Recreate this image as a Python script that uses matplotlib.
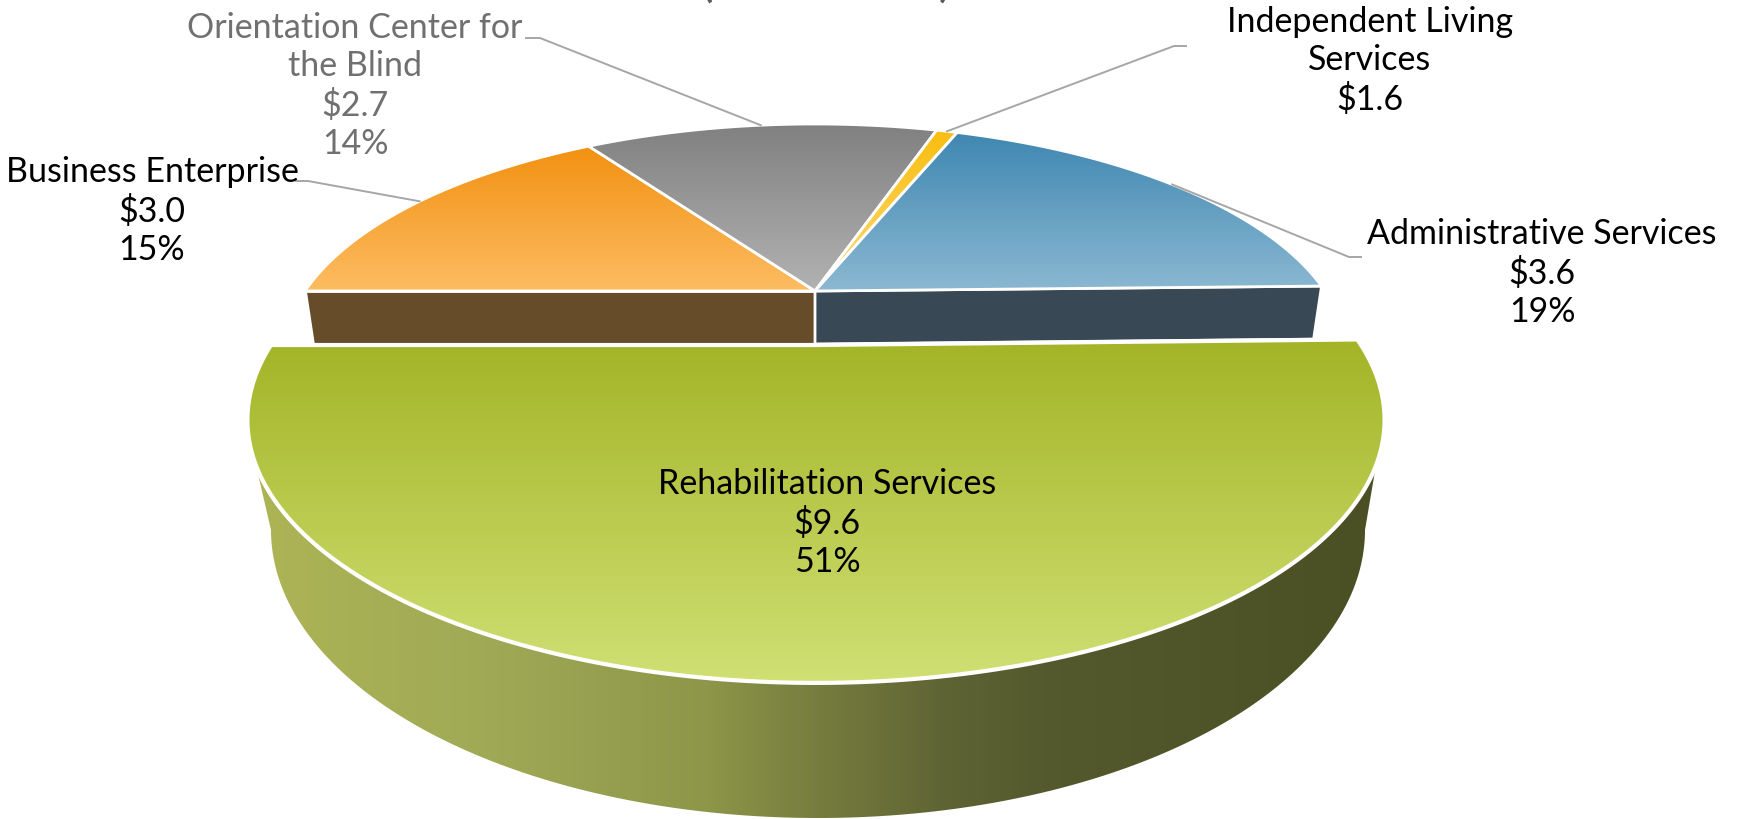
import numpy as np
import matplotlib
matplotlib.use('Agg')
from matplotlib import pyplot as plt
from matplotlib.colors import LinearSegmentedColormap
from matplotlib.patches import Polygon

# slices clockwise, starting at the left edge of the big slice's end
names = ['Business Enterprise', 'Orientation Center for\nthe Blind',
         'Independent Living\nServices', 'Administrative Services',
         'Rehabilitation Services']
values = [3.0, 2.7, 0.16, 3.6, 9.6]   # independent living slice is drawn ~1%
dollars = ['$3.0', '$2.7', '$1.6', '$3.6', '$9.6']
percents = ['15%', '14%', '', '19%', '51%']
title_stub = '(in millions)'

top_colors = ['#F29111', '#808080', '#F9BE10', '#3F87B1', '#A3B427']
bottom_colors = ['#FDBC62', '#B2B2B2', '#FDD973', '#8BB8D2', '#D0E074']
side_colors = ['#674C2A', '#555555', '#7A5F10', '#384854']
text_colors = ['black', '#707070', 'black', 'black', 'black']

label_pos = [(152, 211), (355, 86), (1370, 61), (1542, 273), (827, 523)]
elbows = [[(296, 181), (308, 181)], [(526, 38), (540, 38)], [(1186, 46), (1174, 46)],
          [(1361, 257), (1349, 257)], None]

K = 0.285
TOP = (815, 291, 510, 214.6)
TOP_LOW = (815, 344, 502, 212)
BIG = (816, 345, 545, 241.6)
BIG_LOW = (818, 530, 547, 288)


def project(theta, layer):
    cx, py, a, b = layer
    t = np.radians(theta)
    u, v = np.sin(t), np.cos(t)
    return cx + a*u/(1 + K*v), py - b*v/(1 + K*v)


def slice_points(t0, t1, layer):
    th = np.linspace(t0, t1, 200)
    x, y = project(th, layer)
    return np.vstack([[layer[0], layer[1]], np.column_stack([x, y])])


def fill_grad(pts, cmap, vertical=True, edge='white', lw=2, z=2):
    x0, x1 = pts[:, 0].min(), pts[:, 0].max()
    y0, y1 = pts[:, 1].min(), pts[:, 1].max()
    g = np.linspace(0, 1, 256)
    g = g.reshape(-1, 1) if vertical else g.reshape(1, -1)
    im = ax.imshow(g, cmap=cmap, extent=[x0, x1, y1, y0], aspect='auto',
                   interpolation='bilinear', zorder=z, vmin=0, vmax=1)
    p = Polygon(pts, closed=True, facecolor='none', edgecolor=edge, linewidth=lw,
                zorder=z + 0.1, joinstyle='round')
    ax.add_patch(p)
    im.set_clip_path(p)


plt.rcParams['font.family'] = ['Lato', 'DejaVu Sans']

fig = plt.figure(figsize=(17.38, 8.19), dpi=100)
ax = fig.add_axes([0, 0, 1, 1])

bounds = 270 + np.cumsum([0] + values) / sum(values) * 360
mids = (bounds[:-1] + bounds[1:]) / 2

# back walls: only the two that face the viewer
for i in [0, 3]:
    t = bounds[i] if i == 0 else bounds[i + 1]
    p = np.array([project(t, TOP), (TOP[0], TOP[1]), (TOP_LOW[0], TOP_LOW[1]), project(t, TOP_LOW)])
    ax.add_patch(Polygon(p, closed=True, facecolor=side_colors[i], edgecolor='white',
                         linewidth=2, zorder=1))

# upper faces
for i in range(4):
    pts = slice_points(bounds[i], bounds[i + 1], TOP)
    cmap = LinearSegmentedColormap.from_list('s', [top_colors[i], bottom_colors[i]])
    fill_grad(pts, cmap, z=2 + i*0.2)

# wall of the pulled out slice
th = np.linspace(bounds[4], bounds[5], 400)
rx, ry = project(th, BIG)
keep = ry >= 465
rim = np.column_stack([rx[keep], ry[keep]])
cx, cy, ex, ey = BIG_LOW
tt = np.radians(np.linspace(270, 90, 300))
low = np.column_stack([cx + ex*np.sin(tt), cy - ey*np.cos(tt)])
wall = np.vstack([rim, low])
wall_cmap = LinearSegmentedColormap.from_list('w', [
    (0.0, '#ADB455'), (0.2, '#A0AA56'), (0.4, '#8E9649'), (0.5, '#777D3E'),
    (0.62, '#5E6334'), (0.72, '#53582D'), (1.0, '#4A4F24')])
fill_grad(wall, wall_cmap, vertical=False, edge='none', lw=0, z=4)

# big slice face
pts = slice_points(bounds[4], bounds[5], BIG)
cmap = LinearSegmentedColormap.from_list('s', [top_colors[4], bottom_colors[4]])
fill_grad(pts, cmap, lw=3, z=5)

# leader lines
for i in range(4):
    e = elbows[i]
    xe, ye = project(mids[i], TOP)
    ax.plot([e[0][0], e[1][0], xe], [e[0][1], e[1][1], ye], color='#A6A6A6',
            linewidth=1.4, zorder=6)

# labels
for i in range(5):
    lines = [names[i], dollars[i]]
    if percents[i]:
        lines.append(percents[i])
    ax.text(label_pos[i][0], label_pos[i][1], '\n'.join(lines), ha='center', va='center',
            fontsize=24.5, color=text_colors[i], linespacing=1.24, zorder=7)

# title is cut off by the top edge of the picture, only bracket ends show
ax.text(826, -4, title_stub, ha='center', va='baseline', fontsize=37, color='#595959',
        zorder=7)

ax.set_xlim(0, 1738)
ax.set_ylim(819, 0)
ax.axis('off')

fig.savefig('out.png', dpi=100, facecolor='white')
